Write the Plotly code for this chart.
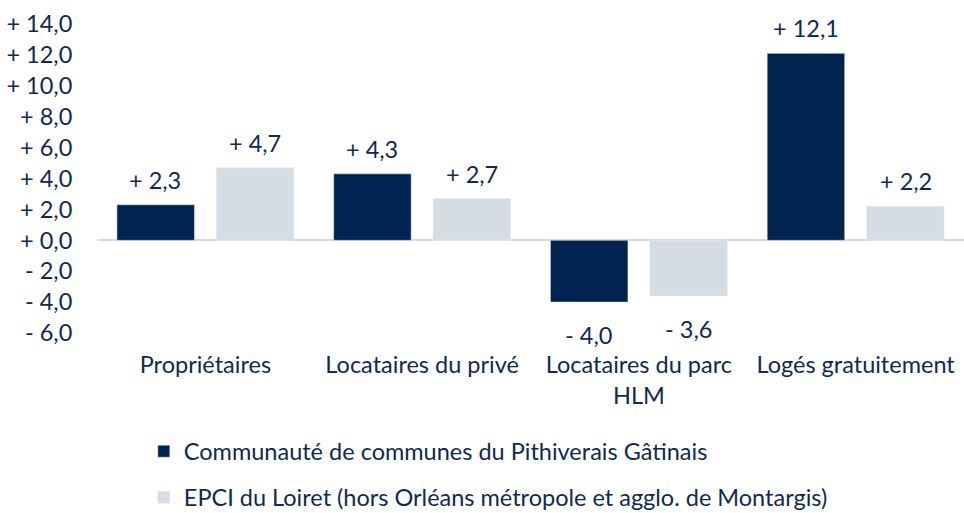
import plotly.graph_objects as go

categories = ["Propriétaires", "Locataires du privé", "Locataires du parc<br>HLM", "Logés gratuitement"]
series_names = ["Communauté de communes du Pithiverais Gâtinais",
                "EPCI du Loiret (hors Orléans métropole et agglo. de Montargis)"]
ccpg = [2.3, 4.3, -4.0, 12.1]
epci = [4.7, 2.7, -3.6, 2.2]
tick_vals = [14, 12, 10, 8, 6, 4, 2, 0, -2, -4, -6]

DARK = "#002350"
LIGHT = "#d6dce4"
TXT = "#0f2a50"
FONT = "Lato"
FS = 23.5


def fmt(v):
    sign = "+ " if v >= 0 else "- "
    return sign + f"{abs(v):.1f}".replace(".", ",")


fig = go.Figure()
fig.add_trace(go.Bar(x=categories, y=ccpg, name=series_names[0], marker_color=DARK,
                     legend="legend"))
fig.add_trace(go.Bar(x=categories, y=epci, name=series_names[1], marker_color=LIGHT,
                     legend="legend2"))

annotations = []
for vals, shift in ((ccpg, -50), (epci, 50)):
    for c, v in zip(categories, vals):
        annotations.append(dict(x=c, y=v, text=fmt(v), showarrow=False, xshift=shift,
                                yshift=25 if v >= 0 else -33, yanchor="middle",
                                font=dict(family=FONT, size=FS, color=TXT)))

fig.update_layout(
    width=964, height=513,
    margin=dict(l=97, r=0, t=24, b=180, autoexpand=False),
    plot_bgcolor="white", paper_bgcolor="white",
    barmode="group", bargap=0.083, bargroupgap=0.22,
    font=dict(family=FONT, size=FS, color=TXT),
    annotations=annotations,
    showlegend=True,
    legend=dict(x=0.054, y=-0.312, xanchor="left", yanchor="top", bgcolor="rgba(0,0,0,0)",
                font=dict(family=FONT, size=FS, color=TXT), itemwidth=30),
    legend2=dict(x=0.054, y=-0.461, xanchor="left", yanchor="top", bgcolor="rgba(0,0,0,0)",
                 font=dict(family=FONT, size=FS, color=TXT), itemwidth=30),
)
fig.update_xaxes(showgrid=False, showline=False, ticks="outside", ticklen=11,
                 tickcolor="rgba(0,0,0,0)", tickfont=dict(family=FONT, size=FS, color=TXT))
fig.update_yaxes(range=[-6, 14], tickvals=tick_vals, ticktext=[fmt(v) for v in tick_vals],
                 showgrid=False, zeroline=True, zerolinecolor="#d9d9d9", zerolinewidth=2,
                 ticks="outside", ticklen=19, tickcolor="rgba(0,0,0,0)",
                 tickfont=dict(family=FONT, size=FS, color=TXT))

fig.write_html("out.html", config={"displayModeBar": False},
               post_script="document.body.style.margin='0';")
